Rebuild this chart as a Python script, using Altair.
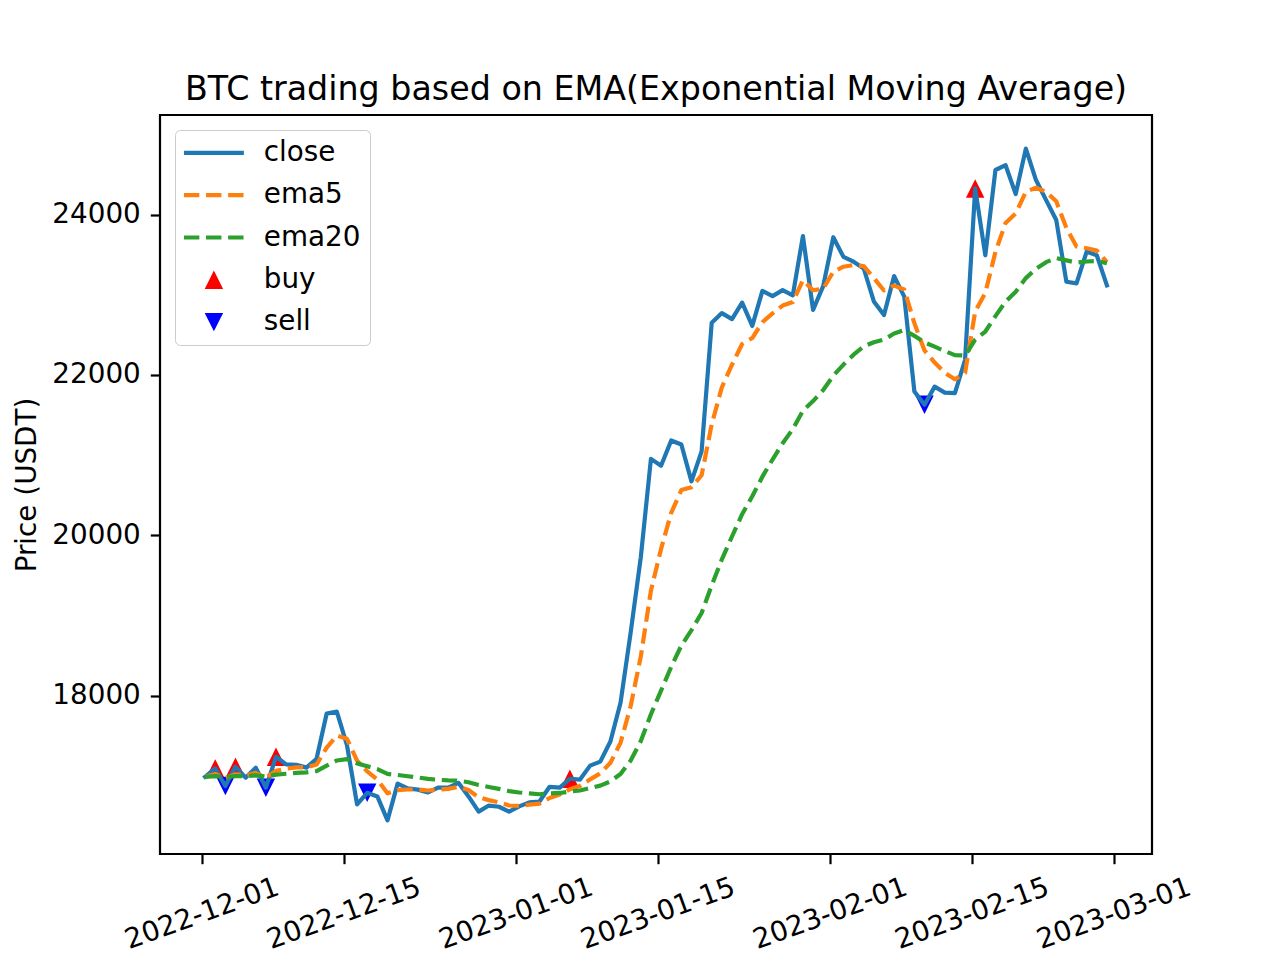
import altair as alt
import pandas as pd

# ---- data ----
dates = pd.date_range("2022-12-01 08:00", periods=90, freq="D").strftime("%Y-%m-%dT%H:%M:%SZ").tolist()

close = [16988, 17093, 16873, 17113, 16978, 17103, 16853, 17238, 17143, 17138,
         17103, 17213, 17777, 17802, 17383, 16644, 16789, 16744, 16445, 16904,
         16844, 16829, 16794, 16854, 16854, 16914, 16744, 16555, 16630, 16615,
         16555, 16620, 16670, 16680, 16864, 16854, 16964, 16954, 17128, 17178,
         17428, 17912, 18788, 19726, 20953, 20868, 21182, 21132, 20673, 21047,
         22651, 22771, 22696, 22901, 22611, 23047, 22983, 23057, 22992, 23732,
         22811, 23107, 23717, 23472, 23412, 23327, 22916, 22746, 23232, 22976,
         21794, 21629, 21854, 21779, 21774, 22186, 24325, 23492, 24555, 24615,
         24255, 24822, 24430, 24180, 23932, 23162, 23142, 23537, 23492, 23117]

ema5 = [16988, 17023, 16973, 17020, 17006, 17038, 16976, 17063, 17090, 17106,
        17105, 17141, 17353, 17503, 17463, 17190, 17056, 16952, 16783, 16823,
        16830, 16830, 16818, 16830, 16838, 16863, 16823, 16733, 16698, 16670,
        16631, 16627, 16641, 16654, 16724, 16767, 16833, 16873, 16957, 17031,
        17163, 17413, 17872, 18489, 19310, 19830, 20280, 20564, 20600, 20749,
        21384, 21846, 22127, 22385, 22460, 22657, 22767, 22865, 22909, 23181,
        23056, 23073, 23288, 23349, 23370, 23356, 23208, 23053, 23113, 23066,
        22644, 22305, 22154, 22028, 21945, 22023, 22792, 23023, 23534, 23895,
        24014, 24284, 24333, 24282, 24165, 23832, 23602, 23580, 23551, 23406]

ema20 = [16988, 16998, 16986, 16998, 16996, 17006, 16991, 17015, 17027, 17038,
         17044, 17060, 17128, 17192, 17210, 17156, 17121, 17085, 17024, 17012,
         16996, 16980, 16962, 16952, 16943, 16940, 16921, 16887, 16862, 16838,
         16811, 16793, 16781, 16771, 16780, 16787, 16804, 16818, 16848, 16879,
         16931, 17024, 17192, 17434, 17769, 18063, 18360, 18624, 18818, 19031,
         19377, 19700, 19985, 20263, 20486, 20731, 20945, 21147, 21324, 21554,
         21674, 21811, 21990, 22129, 22252, 22355, 22408, 22440, 22516, 22560,
         22487, 22405, 22352, 22297, 22247, 22241, 22440, 22541, 22733, 22913,
         23037, 23207, 23324, 23406, 23456, 23428, 23401, 23414, 23421, 23392]

buy_idx = [1, 3, 7, 36, 76]
buy_price = [17093, 17113, 17238, 16964, 24325]
sell_idx = [2, 6, 16, 71]
sell_price = [16873, 16853, 16789, 21629]

series_names = ["close", "ema5", "ema20", "buy", "sell"]
series_colors = ["#1f77b4", "#ff7f0e", "#2ca02c", "#ff0000", "#0000ff"]

x_ticks = ["2022-12-01", "2022-12-15", "2023-01-01", "2023-01-15",
           "2023-02-01", "2023-02-15", "2023-03-01"]
y_ticks = [18000, 20000, 22000, 24000]
y_domain = [16026, 25241]

title_text = "BTC trading based on EMA(Exponential Moving Average)"
y_title = "Price (USDT)"

# ---- tables ----
lines_df = pd.DataFrame({
    "date": dates * 3,
    "series": ["close"] * len(close) + ["ema5"] * len(ema5) + ["ema20"] * len(ema20),
    "price": close + ema5 + ema20,
})
buy_df = pd.DataFrame({"date": [dates[i] for i in buy_idx], "series": "buy", "price": buy_price})
sell_df = pd.DataFrame({"date": [dates[i] for i in sell_idx], "series": "sell", "price": sell_price})


def dt(s, h=0, m=0):
    y, mo, d = map(int, s.split("-"))
    return alt.DateTime(year=y, month=mo, date=d, hours=h, minutes=m, utc=True)


FONT = "DejaVu Sans"
MARKER_SIZE = 340
UP = "M0,-1L-1,1L1,1Z"
DOWN = "M0,1L-1,-1L1,-1Z"
LINE = "M-3.25,0L3.25,0"
DASH = [15.4, 6.7]
series_shapes = [LINE, LINE, LINE, UP, DOWN]

fill_expr = "datum.value === 'buy' ? '#ff0000' : datum.value === 'sell' ? '#0000ff' : 'transparent'"
stroke_expr = ("datum.value === 'close' ? '#1f77b4' : datum.value === 'ema5' ? '#ff7f0e' : "
               "datum.value === 'ema20' ? '#2ca02c' : null")
dash_expr = "(datum.value === 'ema5' || datum.value === 'ema20') ? [15.4, 6.7] : [1, 0]"

legend = alt.Legend(
    title=None, orient="top-left", offset=15, padding=9, rowPadding=13.3,
    labelFont=FONT, labelFontSize=27.8, labelColor="black",
    symbolSize=MARKER_SIZE, symbolStrokeWidth=4.2, symbolOffset=16, labelOffset=36,
    symbolOpacity=1,
    symbolFillColor=alt.ExprRef(fill_expr),
    symbolStrokeColor=alt.ExprRef(stroke_expr),
    symbolDash=alt.ExprRef(dash_expr),
    strokeColor="#cccccc", fillColor="rgba(255,255,255,0.8)", cornerRadius=5,
)

# colour scale listed in another order so that its (hidden) legend is not merged with the shape legend
color_domain = ["buy", "sell", "close", "ema5", "ema20"]
color_range = [series_colors[series_names.index(s)] for s in color_domain]
color = alt.Color("series:N", scale=alt.Scale(domain=color_domain, range=color_range), legend=None)
shape = alt.Shape("series:N", scale=alt.Scale(domain=series_names, range=series_shapes), legend=legend)

x_enc = alt.X(
    "date:T",
    scale=alt.Scale(type="utc", domain=[dt("2022-11-26", 21, 12), dt("2023-03-04", 18, 48)]),
    axis=alt.Axis(values=[dt(s) for s in x_ticks],
                  labelExpr="utcFormat(datum.value, '%Y-%m-%d')",
                  labelAngle=340, labelAlign="center", labelBaseline="middle",
                  labelPadding=50, labelOverlap=False, labelFlush=False, title=None),
)
y_enc = alt.Y(
    "price:Q",
    scale=alt.Scale(domain=y_domain, nice=False, zero=False),
    axis=alt.Axis(values=y_ticks, format="d", labelPadding=10, titlePadding=10, title=y_title),
)

buy = alt.Chart(buy_df).mark_point(filled=True, size=MARKER_SIZE, opacity=1, strokeWidth=0).encode(
    x=x_enc, y=y_enc, color=color, shape=shape)
sell = alt.Chart(sell_df).mark_point(filled=True, size=MARKER_SIZE, opacity=1, strokeWidth=0).encode(
    x=x_enc, y=y_enc, color=color, shape=shape)

close_line = alt.Chart(lines_df).transform_filter(alt.datum.series == "close").mark_line(
    strokeWidth=4.2, strokeCap="square", strokeJoin="round").encode(x=x_enc, y=y_enc, color=color)
ema5_line = alt.Chart(lines_df).transform_filter(alt.datum.series == "ema5").mark_line(
    strokeWidth=4.2, strokeDash=DASH, strokeJoin="round").encode(x=x_enc, y=y_enc, color=color)
ema20_line = alt.Chart(lines_df).transform_filter(alt.datum.series == "ema20").mark_line(
    strokeWidth=4.2, strokeDash=DASH, strokeJoin="round").encode(x=x_enc, y=y_enc, color=color)

chart = alt.layer(buy, sell, close_line, ema5_line, ema20_line).properties(
    width=992, height=739,
    title=alt.TitleParams(title_text),
    autosize=alt.AutoSizeParams(type="none"),
    padding={"left": 152, "top": 107, "right": 110, "bottom": 104},
).configure_view(
    stroke="black", strokeWidth=2.2,
).configure_axis(
    domain=False, grid=False, ticks=True, tickColor="black", tickWidth=2.2, tickSize=9.7,
    labelFont=FONT, labelFontSize=27.8, labelColor="black",
    titleFont=FONT, titleFontSize=27.8, titleFontWeight="normal", titleColor="black",
).configure_title(
    font=FONT, fontSize=33.3, fontWeight="normal", color="black", anchor="middle",
    offset=8, baseline="alphabetic",
)

chart.save("out.html", embed_options={"renderer": "svg", "actions": False})
